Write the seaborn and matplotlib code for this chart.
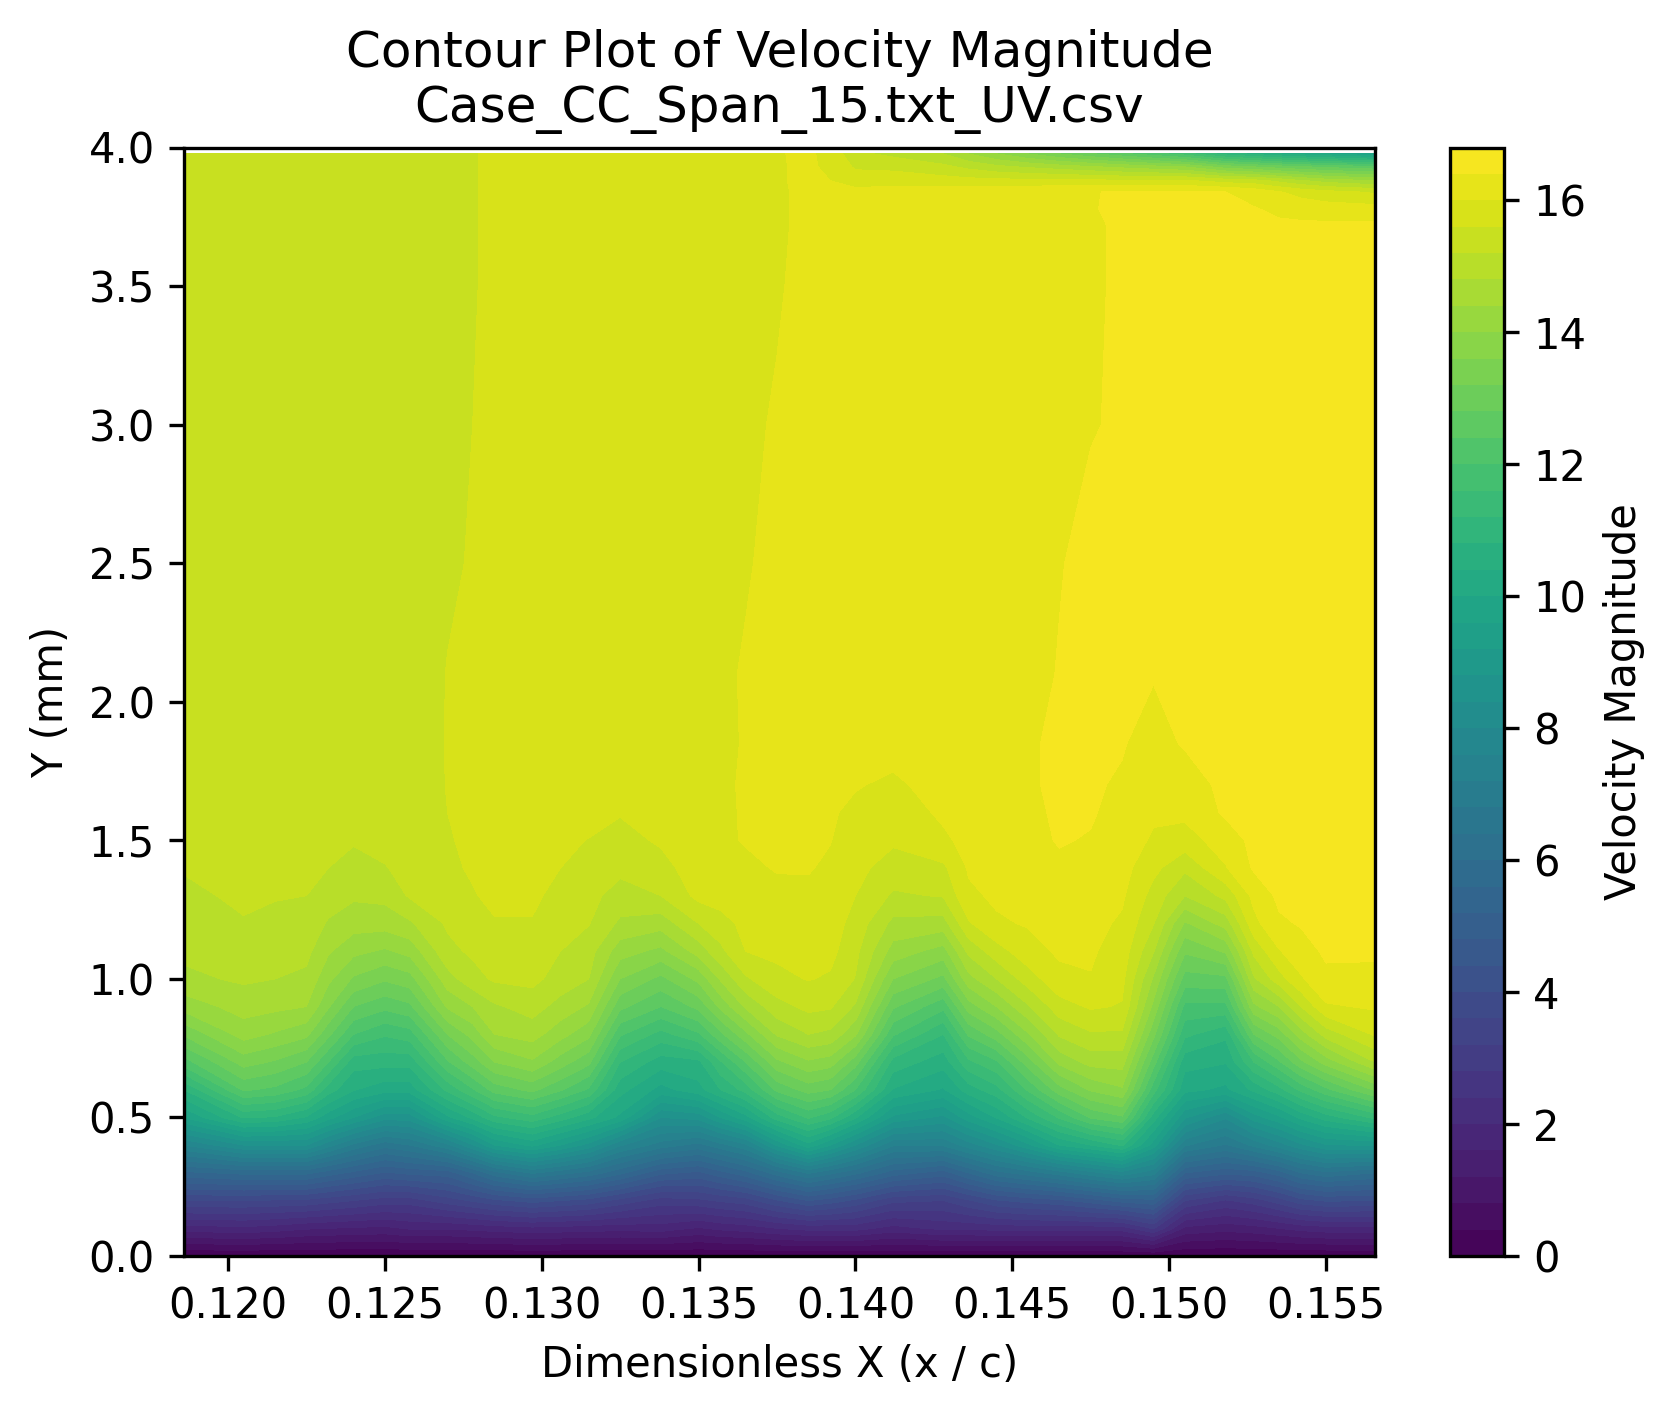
"""
Contour plot of velocity magnitude for one span station.
"""

import numpy as np
import seaborn as sns
import matplotlib.pyplot as plt

TITLE = "Contour Plot of Velocity Magnitude\nCase_CC_Span_15.txt_UV.csv"
X_LABEL = "Dimensionless X (x / c)"
Y_LABEL = "Y (mm)"
CBAR_LABEL = "Velocity Magnitude"

# stations along the chord
X_STATIONS = [0.1186, 0.1205, 0.1215, 0.1225, 0.1232, 0.1240, 0.1250, 0.1258,
              0.1270, 0.1278, 0.1285, 0.1297, 0.1306, 0.1315, 0.1325, 0.1338,
              0.1350, 0.1357, 0.1365, 0.1375, 0.1385, 0.1392, 0.1400, 0.1412,
              0.1428, 0.1436, 0.1445, 0.1455, 0.1465, 0.1475, 0.1485, 0.1495,
              0.1505, 0.1518, 0.1527, 0.1535, 0.1542, 0.1550, 0.15656]

# heights above the wall
Y_ROWS = [0, 0.1, 0.2, 0.3, 0.4, 0.5, 0.6, 0.7, 0.8, 0.9, 1.0, 1.1, 1.2, 1.3,
          1.4, 1.5, 1.6, 1.7, 1.85, 2.1, 2.5, 3.0, 3.5, 3.72, 3.78, 3.84, 3.88,
          3.93, 3.977]

# velocity, one list per x station, bottom to top
SPEED_COLUMNS = [
    [0, 1.8, 3.6, 5.5, 7.6, 9.6, 10.8, 12.23, 13.26, 14.17, 14.71, 14.89, 15.03, 15.14, 15.22, 15.23, 15.25, 15.26,
     15.26, 15.26, 15.26, 15.26, 15.26, 15.26, 15.26, 15.26, 15.26, 15.26, 15.26],
    [0, 1.9, 3.6, 5.7, 8.4, 10.85, 12.46, 13.37, 14.17, 14.57, 14.86, 15.03, 15.18, 15.25, 15.28, 15.29, 15.3, 15.31,
     15.31, 15.31, 15.31, 15.31, 15.31, 15.31, 15.31, 15.31, 15.31, 15.31, 15.31],
    [0, 1.8, 3.55, 5.7, 8.4, 10.75, 12.3, 13.15, 13.95, 14.5, 14.8, 14.97, 15.12, 15.22, 15.28, 15.31, 15.33, 15.34,
     15.34, 15.34, 15.34, 15.34, 15.34, 15.34, 15.34, 15.34, 15.34, 15.34, 15.34],
    [0, 1.65, 3.5, 5.7, 8.4, 10.35, 11.89, 12.8, 13.71, 14.4, 14.71, 14.91, 15.08, 15.2, 15.26, 15.31, 15.34, 15.35,
     15.36, 15.37, 15.37, 15.37, 15.37, 15.37, 15.37, 15.37, 15.37, 15.37, 15.37],
    [0, 1.6, 3.35, 5.4, 7.75, 9.75, 11.0, 12.0, 12.9, 13.65, 14.1, 14.45, 14.75, 15.02, 15.2, 15.27, 15.33, 15.37,
     15.38, 15.39, 15.39, 15.39, 15.39, 15.39, 15.39, 15.39, 15.39, 15.39, 15.39],
    [0, 1.55, 3.2, 5.1, 7.1, 9.2, 10.43, 10.98, 12.0, 12.8, 13.54, 14.11, 14.57, 14.86, 15.09, 15.23, 15.31, 15.37,
     15.41, 15.43, 15.43, 15.43, 15.43, 15.43, 15.43, 15.43, 15.43, 15.43, 15.43],
    [0, 1.5, 3.0, 4.75, 6.55, 8.55, 10.15, 10.95, 11.65, 12.51, 13.26, 13.94, 14.57, 14.91, 15.18, 15.31, 15.37, 15.43,
     15.45, 15.47, 15.47, 15.46, 15.46, 15.46, 15.46, 15.46, 15.46, 15.46, 15.46],
    [0, 1.65, 3.0, 4.9, 6.8, 8.6, 10.18, 10.95, 11.82, 12.71, 13.44, 14.14, 14.74, 15.25, 15.31, 15.37, 15.43, 15.45,
     15.49, 15.52, 15.51, 15.51, 15.5, 15.5, 15.5, 15.5, 15.5, 15.5, 15.5],
    [0, 1.65, 3.4, 5.0, 7.5, 9.9, 11.3, 12.34, 13.2, 14.06, 14.63, 15.09, 15.26, 15.42, 15.55, 15.58, 15.6, 15.61,
     15.61, 15.605, 15.58, 15.57, 15.55, 15.55, 15.55, 15.55, 15.55, 15.55, 15.55],
    [0, 1.72, 3.65, 5.6, 8.35, 10.5, 11.95, 13.0, 13.75, 14.4, 15.05, 15.27, 15.42, 15.58, 15.63, 15.65, 15.66, 15.66,
     15.65, 15.64, 15.61, 15.6, 15.59, 15.59, 15.59, 15.59, 15.59, 15.59, 15.59],
    [0, 1.8, 3.9, 6.25, 9.2, 11.1, 12.57, 13.6, 14.4, 14.74, 15.26, 15.37, 15.58, 15.66, 15.68, 15.69, 15.7, 15.71,
     15.68, 15.67, 15.66, 15.64, 15.63, 15.63, 15.63, 15.63, 15.63, 15.63, 15.63],
    [0, 1.9, 4.15, 6.85, 9.7, 11.45, 12.91, 13.94, 14.57, 14.97, 15.31, 15.43, 15.58, 15.66, 15.69, 15.71, 15.73, 15.74,
     15.74, 15.72, 15.7, 15.69, 15.68, 15.67, 15.67, 15.67, 15.67, 15.67, 15.67],
    [0, 1.85, 4.0, 6.55, 9.2, 11.0, 12.45, 13.4, 14.15, 14.65, 15.03, 15.2, 15.38, 15.5, 15.6, 15.66, 15.72, 15.73,
     15.75, 15.76, 15.73, 15.72, 15.71, 15.71, 15.71, 15.71, 15.71, 15.71, 15.71],
    [0, 1.8, 3.85, 6.25, 8.65, 10.52, 11.94, 12.91, 13.71, 14.34, 14.8, 14.97, 15.22, 15.31, 15.43, 15.59, 15.71, 15.75,
     15.79, 15.8, 15.77, 15.76, 15.74, 15.74, 15.74, 15.74, 15.74, 15.74, 15.74],
    [0, 1.75, 3.45, 5.7, 7.65, 9.9, 10.55, 11.2, 12.06, 12.91, 13.6, 14.17, 14.72, 15.05, 15.29, 15.45, 15.63, 15.77,
     15.82, 15.84, 15.82, 15.8, 15.78, 15.78, 15.78, 15.78, 15.78, 15.78, 15.78],
    [0, 1.8, 3.0, 4.9, 7.0, 8.4, 9.85, 10.6, 11.45, 12.4, 13.09, 13.89, 14.57, 15.2, 15.45, 15.66, 15.77, 15.83,
     15.86, 15.9, 15.88, 15.86, 15.84, 15.84, 15.84, 15.84, 15.84, 15.84, 15.84],
    [0, 1.55, 3.1, 4.7, 6.65, 8.55, 10.25, 10.7, 11.94, 12.91, 13.71, 14.57, 15.2, 15.71, 15.83, 15.86, 15.89, 15.91,
     15.93, 15.95, 15.93, 15.92, 15.9, 15.9, 15.9, 15.9, 15.9, 15.9, 15.9],
    [0, 1.7, 3.25, 5.05, 7.05, 9.2, 10.8, 11.55, 12.7, 13.7, 14.45, 15.1, 15.45, 15.77, 15.89, 15.95, 15.96, 15.97,
     15.97, 15.98, 15.96, 15.95, 15.93, 15.93, 15.93, 15.93, 15.93, 15.93, 15.93],
    [0, 1.8, 3.4, 5.45, 7.5, 9.85, 11.35, 12.4, 13.49, 14.46, 15.14, 15.6, 15.71, 15.83, 15.94, 16.02, 16.02, 16.02,
     16.01, 16.01, 15.99, 15.98, 15.95, 15.95, 15.95, 15.95, 15.95, 15.95, 15.95],
    [0, 2.0, 3.95, 6.2, 8.85, 11.0, 12.5, 13.5, 14.45, 15.05, 15.5, 15.68, 15.78, 15.92, 16.02, 16.05, 16.07, 16.07,
     16.06, 16.05, 16.03, 16.01, 15.99, 15.98, 15.98, 15.98, 15.98, 15.98, 15.98],
    [0, 2.15, 4.4, 6.85, 9.85, 11.65, 12.97, 13.94, 14.8, 15.31, 15.62, 15.74, 15.83, 15.94, 16.02, 16.06, 16.09, 16.09,
     16.09, 16.09, 16.07, 16.06, 16.03, 16.03, 16.03, 16.03, 16.04, 16.04, 16.05],
    [0, 2.15, 4.2, 6.5, 9.2, 11.3, 12.8, 13.8, 14.7, 15.25, 15.55, 15.72, 15.8, 15.88, 15.95, 16.01, 16.03, 16.07,
     16.09, 16.1, 16.09, 16.08, 16.07, 16.08, 16.08, 16.08, 16.0, 15.95, 15.9],
    [0, 2.15, 3.9, 6.1, 8.4, 10.45, 12.0, 12.97, 14.06, 14.74, 15.18, 15.31, 15.45, 15.6, 15.71, 15.83, 15.94, 16.02,
     16.09, 16.11, 16.11, 16.1, 16.09, 16.11, 16.11, 16.11, 15.83, 15.54, 15.3],
    [0, 1.85, 3.3, 5.4, 7.25, 9.1, 10.37, 11.05, 12.06, 12.86, 13.6, 14.23, 14.69, 15.14, 15.43, 15.66, 15.81, 15.95,
     16.11, 16.14, 16.14, 16.14, 16.14, 16.14, 16.15, 16.17, 15.83, 15.5, 15.1],
    [0, 2.1, 3.2, 5.0, 7.25, 8.7, 9.95, 10.57, 11.2, 12.11, 13.09, 13.83, 14.63, 15.23, 15.52, 15.94, 16.06, 16.11,
     16.16, 16.19, 16.19, 16.19, 16.19, 16.19, 16.21, 16.23, 15.77, 15.3, 14.8],
    [0, 2.1, 3.55, 5.6, 7.8, 9.4, 10.6, 11.5, 12.45, 13.4, 14.25, 14.9, 15.55, 15.93, 16.04, 16.1, 16.15, 16.2,
     16.22, 16.23, 16.23, 16.22, 16.22, 16.22, 16.24, 16.26, 15.74, 15.1, 14.4],
    [0, 2.15, 3.95, 6.25, 8.35, 10.03, 11.05, 11.94, 13.03, 14.0, 14.8, 15.43, 15.95, 16.06, 16.17, 16.23, 16.24, 16.25,
     16.26, 16.26, 16.26, 16.26, 16.26, 16.26, 16.27, 16.29, 15.71, 14.9, 14.0],
    [0, 2.2, 4.15, 6.6, 9.1, 10.85, 12.05, 13.0, 13.95, 14.75, 15.4, 15.85, 16.03, 16.15, 16.25, 16.32, 16.37, 16.38,
     16.38, 16.34, 16.33, 16.32, 16.3, 16.3, 16.3, 16.31, 15.71, 14.75, 13.6],
    [0, 2.2, 4.3, 7.0, 10.0, 11.65, 13.03, 14.11, 14.86, 15.43, 15.89, 16.06, 16.14, 16.23, 16.35, 16.42, 16.42, 16.43,
     16.43, 16.41, 16.39, 16.37, 16.34, 16.34, 16.34, 16.34, 15.71, 14.6, 13.2],
    [0, 2.2, 4.6, 7.45, 10.4, 12.45, 13.65, 14.55, 15.15, 15.65, 15.98, 16.05, 16.12, 16.2, 16.28, 16.38, 16.43, 16.43,
     16.45, 16.46, 16.45, 16.39, 16.38, 16.38, 16.38, 16.37, 15.68, 14.45, 12.85],
    [0, 2.2, 4.95, 7.85, 10.85, 12.74, 13.94, 14.57, 15.14, 15.57, 15.71, 15.83, 15.94, 16.06, 16.14, 16.23, 16.29, 16.37,
     16.42, 16.46, 16.43, 16.42, 16.42, 16.42, 16.46, 16.46, 15.66, 14.3, 12.5],
    [0, 2.85, 5.1, 7.35, 9.4, 10.6, 11.77, 12.57, 13.31, 13.89, 14.34, 14.83, 15.22, 15.45, 15.71, 15.94, 16.07, 16.17,
     16.29, 16.42, 16.46, 16.46, 16.46, 16.46, 16.46, 16.46, 15.66, 14.15, 12.15],
    [0, 1.5, 3.2, 5.2, 7.25, 8.85, 10.12, 10.55, 11.3, 11.89, 12.63, 13.26, 13.94, 14.8, 15.28, 15.83, 16.09, 16.25,
     16.43, 16.48, 16.48, 16.48, 16.48, 16.48, 16.48, 16.46, 15.66, 14.0, 11.8],
    [0, 1.35, 2.75, 4.9, 6.75, 8.05, 9.9, 10.43, 10.9, 11.89, 12.69, 13.66, 14.57, 15.31, 15.97, 16.2, 16.46, 16.48,
     16.5, 16.51, 16.51, 16.51, 16.51, 16.51, 16.48, 16.4, 15.43, 13.4, 11.0],
    [0, 1.45, 3.0, 5.0, 7.3, 9.0, 10.5, 11.6, 12.8, 13.9, 14.74, 15.3, 15.88, 16.12, 16.45, 16.5, 16.52, 16.52,
     16.52, 16.52, 16.52, 16.52, 16.52, 16.47, 16.42, 16.25, 15.35, 13.2, 10.7],
    [0, 1.6, 3.4, 5.4, 7.8, 9.5, 11.05, 12.34, 13.37, 14.4, 15.43, 15.97, 16.34, 16.48, 16.51, 16.53, 16.54, 16.55,
     16.55, 16.55, 16.55, 16.55, 16.55, 16.46, 16.32, 16.02, 15.09, 13.0, 10.4],
    [0, 1.75, 3.85, 6.0, 8.3, 10.1, 11.7, 13.1, 14.2, 15.2, 15.95, 16.25, 16.43, 16.52, 16.55, 16.55, 16.56, 16.56,
     16.56, 16.56, 16.56, 16.56, 16.56, 16.46, 16.25, 15.85, 14.85, 12.85, 10.2],
    [0, 1.85, 4.05, 6.3, 8.75, 10.6, 12.29, 13.77, 14.97, 15.95, 16.32, 16.46, 16.51, 16.54, 16.57, 16.57, 16.57, 16.57,
     16.57, 16.57, 16.57, 16.57, 16.57, 16.46, 16.19, 15.71, 14.63, 12.7, 10.0],
    [0, 1.85, 4.0, 6.0, 8.85, 11.3, 13.26, 14.8, 15.66, 16.05, 16.3, 16.46, 16.51, 16.54, 16.57, 16.57, 16.57, 16.57,
     16.57, 16.57, 16.57, 16.57, 16.57, 16.46, 16.14, 15.54, 14.4, 12.5, 9.6],
]

WIDTH_PX = 1675
HEIGHT_PX = 1417
DPI = 300


def axes_box(left, right, top, bottom):
    """
    Turn pixel edges of an axes into the figure fractions add_axes wants.
    """
    return [left / WIDTH_PX, 1 - bottom / HEIGHT_PX,
            (right - left) / WIDTH_PX, (bottom - top) / HEIGHT_PX]


def main():

    sns.set_style("ticks")
    plt.rcParams["font.family"] = ["DejaVu Sans"]
    plt.rcParams["text.color"] = "black"
    plt.rcParams["axes.labelcolor"] = "black"
    plt.rcParams["xtick.color"] = "black"
    plt.rcParams["ytick.color"] = "black"
    plt.rcParams["axes.edgecolor"] = "black"

    speed = np.array(SPEED_COLUMNS).T
    levels = np.linspace(0, 16.8, 43)
    cmap = sns.color_palette("viridis", as_cmap=True)

    fig = plt.figure(figsize=(WIDTH_PX / DPI, HEIGHT_PX / DPI), dpi=DPI)
    ax = fig.add_axes(axes_box(184, 1375, 147.5, 1256))
    cax = fig.add_axes(axes_box(1449.5, 1504, 147.5, 1256))

    filled = ax.contourf(X_STATIONS, Y_ROWS, speed, levels=levels, cmap=cmap)
    ax.set_xlim(0.1186, 0.15656)
    ax.set_ylim(0, 4)
    ax.set_xticks([0.120, 0.125, 0.130, 0.135, 0.140, 0.145, 0.150, 0.155])
    ax.set_xlabel(X_LABEL, fontsize=10)
    ax.set_ylabel(Y_LABEL, fontsize=10)
    ax.set_title(TITLE, fontsize=12)
    ax.tick_params(labelsize=10, length=3.5, width=0.8, direction="out")

    cbar = fig.colorbar(filled, cax=cax)
    cbar.set_ticks(range(0, 17, 2))
    cbar.set_label(CBAR_LABEL, fontsize=10)
    cbar.ax.tick_params(labelsize=10, length=3.5, width=0.8)

    plt.savefig("out.png", dpi=DPI)


if __name__ == "__main__":
    main()
